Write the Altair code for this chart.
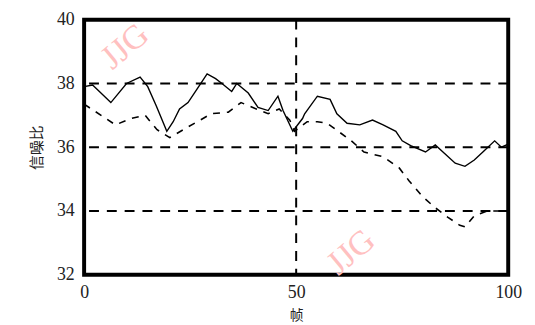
import altair as alt
import pandas as pd

# Series A (solid line)
frames_a = [0, 2, 6.3, 10, 13.2, 15, 17, 19.5, 21, 22.5, 24.5, 26.5, 29, 31, 32.5, 34.8, 36, 38.7, 41,
            43.4, 45.7, 46.9, 49.2, 51.5, 52, 55, 58, 59.6, 62, 65, 68, 70.5, 73.5, 75, 77, 80.5,
            82.8, 85, 87.5, 89.8, 92, 94.4, 96.8, 98.4, 100]
snr_a = [37.9, 37.95, 37.4, 38.0, 38.2, 37.9, 37.3, 36.5, 36.8, 37.2, 37.4, 37.8, 38.3, 38.15, 38.0,
         37.75, 38.0, 37.7, 37.25, 37.15, 37.6, 37.15, 36.5, 36.9, 37.05, 37.6, 37.5, 37.05, 36.75,
         36.7, 36.85, 36.7, 36.5, 36.2, 36.05, 35.85, 36.07, 35.8, 35.5, 35.4, 35.6, 35.9, 36.2,
         36.0, 36.1]

# Series B (dashed line)
frames_b = [0, 4, 7.4, 11, 14.4, 17.2, 20.2, 24, 26.7, 30, 34, 37, 40.6, 43.4, 46, 48.5, 49.6, 52.6,
            55, 57.3, 58.9, 63, 66, 70.5, 74.3, 76.6, 79.8, 82.8, 85.8, 88.6, 89.8, 92, 95, 98.4, 100]
snr_b = [37.35, 37.0, 36.7, 36.9, 37.0, 36.55, 36.3, 36.6, 36.8, 37.05, 37.1, 37.4, 37.2, 37.05, 37.2,
         36.85, 36.5, 36.8, 36.8, 36.75, 36.6, 36.2, 35.85, 35.7, 35.35, 34.95, 34.45, 34.1, 33.8,
         33.55, 33.5, 33.85, 34.0, 34.0, 34.0]

x_ticks = [0, 50, 100]
y_ticks = [32, 34, 36, 38, 40]
x_grid = [50]
y_grid = [34, 36, 38]

wm_text = ["JJG", "JJG"]
wm_x = [9.7, 63.0]
wm_y = [39.15, 32.7]

df_a = pd.DataFrame({"frame": frames_a, "snr": snr_a})
df_b = pd.DataFrame({"frame": frames_b, "snr": snr_b})
df_wm = pd.DataFrame({"t": wm_text, "frame": wm_x, "snr": wm_y})
df_xg = pd.DataFrame({"frame": x_grid})
df_yg = pd.DataFrame({"snr": y_grid})

xs = alt.Scale(domain=[0, 100], nice=False)
ys = alt.Scale(domain=[32, 40], nice=False)

x_axis = alt.Axis(values=x_ticks, title="帧", grid=False, ticks=False, domain=False,
                  labelFont="Liberation Serif", labelFontSize=18, labelColor="#222",
                  labelPadding=9, titleFont="Noto Sans CJK SC", titleFontSize=14,
                  titleFontWeight="normal", titleColor="#222", titlePadding=7, labelFlush=False)
y_axis = alt.Axis(values=y_ticks, title="信噪比", grid=False, ticks=False, domain=False,
                  labelFont="Liberation Serif", labelFontSize=18, labelColor="#222",
                  labelPadding=10, titleFont="Noto Sans CJK SC", titleFontSize=15,
                  titleFontWeight="normal", titleColor="#222", titlePadding=12)

wm = alt.Chart(df_wm).mark_text(font="Liberation Serif", fontSize=34, color="#ffc0c0",
                                angle=320).encode(
    x=alt.X("frame:Q", scale=xs, axis=x_axis),
    y=alt.Y("snr:Q", scale=ys, axis=y_axis),
    text="t:N")

xgrid = alt.Chart(df_xg).mark_rule(color="black", strokeWidth=2, strokeDash=[10, 8]).encode(
    x=alt.X("frame:Q", scale=xs))
ygrid = alt.Chart(df_yg).mark_rule(color="black", strokeWidth=2, strokeDash=[10, 8]).encode(
    y=alt.Y("snr:Q", scale=ys))

line_a = alt.Chart(df_a).mark_line(color="black", strokeWidth=1.4).encode(
    x=alt.X("frame:Q", scale=xs), y=alt.Y("snr:Q", scale=ys))

line_b = alt.Chart(df_b).mark_line(color="black", strokeWidth=1.6, strokeDash=[7, 7]).encode(
    x=alt.X("frame:Q", scale=xs), y=alt.Y("snr:Q", scale=ys))

chart = alt.layer(wm, xgrid, ygrid, line_a, line_b).properties(
    width=429, height=258,
    padding={"left": 22, "top": 1, "right": 5, "bottom": 0},
).configure(background="white").configure_view(stroke="black", strokeWidth=4)

chart.save("out.html", embed_options={"renderer": "svg", "actions": False})
